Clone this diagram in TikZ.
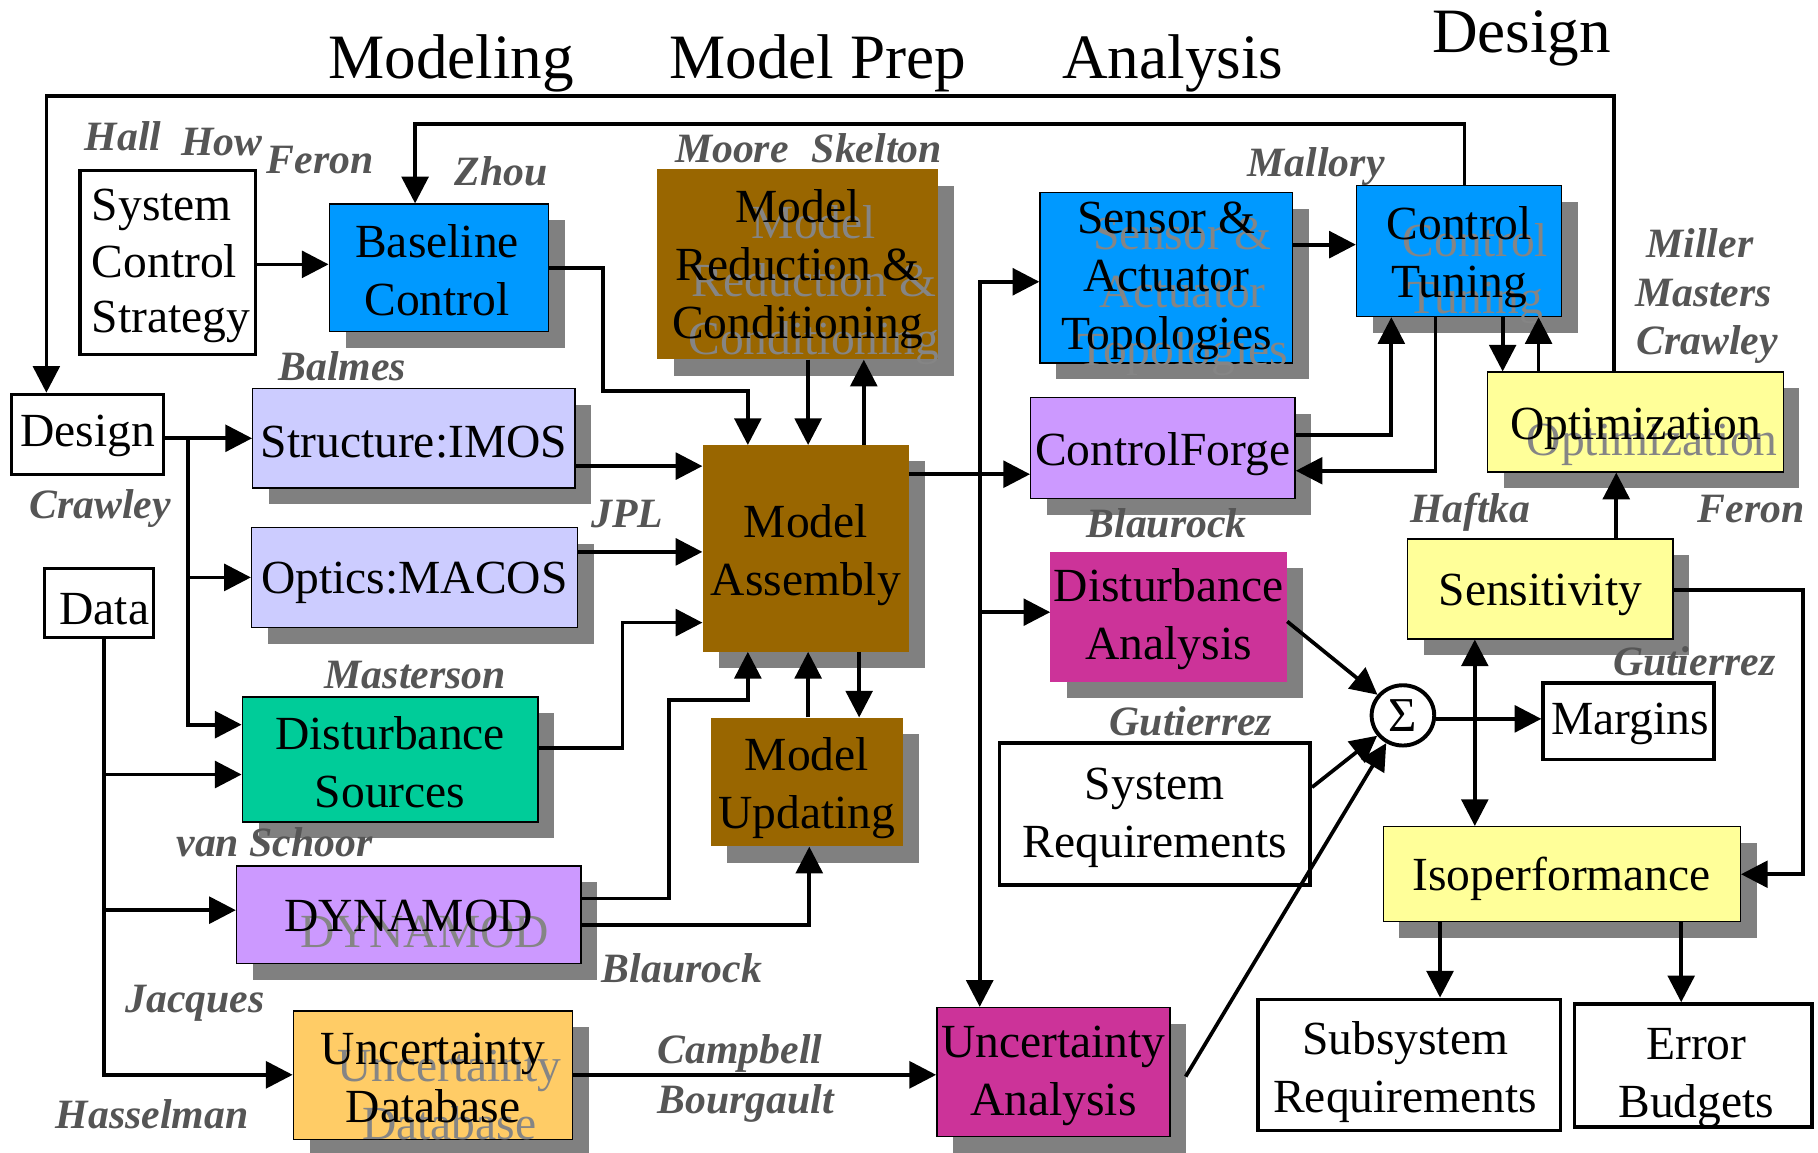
\documentclass[tikz,border=0pt]{standalone}
\usepackage{fontspec}
\setmainfont{Liberation Serif}
\usetikzlibrary{arrows.meta,shapes.geometric,shadows}
\definecolor{cblue}{HTML}{0099FF}
\definecolor{clav}{HTML}{CCCCFF}
\definecolor{cgreen}{HTML}{00CC99}
\definecolor{cpurp}{HTML}{CC99FF}
\definecolor{corange}{HTML}{FFCC66}
\definecolor{cbrown}{HTML}{996600}
\definecolor{cmag}{HTML}{CC3399}
\definecolor{cyel}{HTML}{FFFF99}
\definecolor{cshadow}{HTML}{808080}
\definecolor{cauth}{HTML}{555555}
\definecolor{cghost}{HTML}{858585}
\begin{document}
\begin{tikzpicture}[x=1pt,y=-1pt,
  boxshadow/.style={general shadow={fill=cshadow, shadow xshift=14pt, shadow yshift=-14pt}},
  cbox/.style={rectangle, draw=black, line width=1.2pt, inner sep=0pt, boxshadow},
  nbox/.style={rectangle, draw=none, inner sep=0pt, boxshadow},
  wbox/.style={rectangle, draw=black, fill=white, line width=2.6pt, inner sep=0pt},
  wboxt/.style={wbox, line width=3.2pt},
  btext/.style={font=\fontsize{41}{50}\selectfont, align=center, inner sep=0pt},
  gtext/.style={btext, text=cghost},
  auth/.style={font=\fontsize{36}{40}\selectfont\bfseries\itshape, text=cauth, anchor=base west, inner sep=0pt},
  ttl/.style={font=\fontsize{54.5}{60}\selectfont, anchor=base west, inner sep=0pt},
  conn/.style={line width=3.2pt},
  arr/.style={conn, -{Triangle[length=23pt,width=23pt]}},
]
\fill[white] (0,0) rectangle (1568,994);
\useasboundingbox (0,0) rectangle (1568,994);

% titles
\node[ttl] (tModel) at (283,68) {Modeling};
\node[ttl] (tPrep) at (577,68) {Model Prep};
\node[ttl] (tAna) at (916,68) {Analysis};
\node[ttl] (tDes) at (1235,45) {Design};

% white boxes
\node[wbox, minimum width=151pt, minimum height=159pt] (scs) at (144.5,226.5) {};
\node[btext, anchor=base west] (scs1) at (79,190) {System};
\node[btext, anchor=base west] (scs2) at (79,239) {Control};
\node[btext, anchor=base west] (scs3) at (79,287) {Strategy};
\node[wbox, minimum width=131pt, minimum height=69pt] (design) at (75.5,374.5) {};
\node[btext] (designT) at (75.5,376) {Design};
\node[wbox, minimum width=94pt, minimum height=60pt] (data) at (85,520) {};
\node[btext] (dataT) at (90,525) {Data};
\node[wboxt, minimum width=268pt, minimum height=122pt] (sr) at (996,702) {};
\node[btext] (srT) at (996,705) {System\\Requirements};
\node[wboxt, minimum width=147pt, minimum height=66pt] (marg) at (1404.5,622) {};
\node[btext] (margT) at (1406,624) {Margins};
\node[wboxt, minimum width=261pt, minimum height=113pt] (ssr) at (1215.5,918.5) {};
\node[btext] (ssrT) at (1212,925) {Subsystem\\Requirements};
\node[wboxt, minimum width=205pt, minimum height=106pt] (eb) at (1460.5,919) {};
\node[btext] (ebT) at (1463,930) {Error\\Budgets};

% coloured boxes
\node[cbox, fill=cblue, minimum width=189pt, minimum height=110pt] (bc) at (378.5,231) {};
\node[btext] (bcT) at (377,233) {Baseline\\Control};
\node[cbox, fill=clav, minimum width=278pt, minimum height=86pt] (imos) at (357,378) {};
\node[btext] (imosT) at (357,381) {Structure:IMOS};
\node[cbox, fill=clav, minimum width=281pt, minimum height=86pt] (macos) at (357.5,498) {};
\node[btext] (macosT) at (357.5,503) {Optics:MACOS};
\node[cbox, fill=cgreen, minimum width=255pt, minimum height=108pt] (ds) at (336.5,655) {};
\node[btext] (dsT) at (336.5,657) {Disturbance\\Sources};
\node[cbox, fill=cpurp, minimum width=297pt, minimum height=84pt] (dyn) at (352.5,789) {};
\node[gtext] (dynG) at (366.5,804) {DYNAMOD};
\node[btext] (dynT) at (352.5,790) {DYNAMOD};
\node[cbox, fill=corange, minimum width=241pt, minimum height=111pt] (udb) at (373.5,927.5) {};
\node[gtext] (udbG) at (387.5,944) {Uncertainty\\Database};
\node[btext] (udbT) at (373.5,930) {Uncertainty\\Database};

\node[nbox, fill=cbrown, minimum width=242pt, minimum height=164pt] (mrc) at (688,228) {};
\node[gtext] (mrcG) at (702,246) {Model\\Reduction \&\\Conditioning};
\node[btext] (mrcT) at (688,232) {Model\\Reduction \&\\Conditioning};
\node[nbox, fill=cbrown, minimum width=178pt, minimum height=178pt] (ma) at (695,473) {};
\node[btext] (maT) at (695,479) {Model\\Assembly};
\node[nbox, fill=cbrown, minimum width=166pt, minimum height=111pt] (mu) at (696,674.5) {};
\node[btext] (muT) at (696,680) {Model\\Updating};

\node[cbox, fill=cblue, minimum width=218pt, minimum height=147pt] (sat) at (1006,239.5) {};
\node[gtext] (satG) at (1020,256) {Sensor \&\\Actuator\\Topologies};
\node[btext] (satT) at (1006,242) {Sensor \&\\Actuator\\Topologies};
\node[cbox, fill=cblue, minimum width=177pt, minimum height=113pt] (ct) at (1258.5,216.5) {};
\node[gtext] (ctG) at (1272.5,236) {Control\\Tuning};
\node[btext] (ctT) at (1258.5,222) {Control\\Tuning};
\node[cbox, fill=cpurp, minimum width=228pt, minimum height=87pt] (cf) at (1003,386.5) {};
\node[btext] (cfT) at (1003,392) {ControlForge};
\node[nbox, fill=cmag, minimum width=204pt, minimum height=112pt] (da) at (1008,532) {};
\node[btext] (daT) at (1008,534) {Disturbance\\Analysis};
\node[cbox, fill=cmag, minimum width=201pt, minimum height=111pt] (ua) at (908.5,924.5) {};
\node[btext] (uaT) at (908.5,928) {Uncertainty\\Analysis};

\node[cbox, fill=cyel, minimum width=255pt, minimum height=86pt] (opt) at (1410.5,364) {};
\node[gtext] (optG) at (1425,384) {Optimization};
\node[btext] (optT) at (1411,370) {Optimization};
\node[cbox, fill=cyel, minimum width=229pt, minimum height=86pt] (sens) at (1328.5,508) {};
\node[btext] (sensT) at (1328.5,513) {Sensitivity};
\node[cbox, fill=cyel, minimum width=308pt, minimum height=82pt] (iso) at (1347,754) {};
\node[btext] (isoT) at (1347,758) {Isoperformance};

\node[ellipse, draw=black, fill=white, line width=3.4pt, minimum width=54pt, minimum height=52pt, inner sep=0pt] (sigma) at (1210,617) {};
\node[font=\fontsize{42}{46}\selectfont, inner sep=0pt] (sigmaT) at (1210,617) {Σ};

% authors
\node[auth] (aHall) at (73,130) {Hall};
\node[auth] (aHow) at (156,134) {How};
\node[auth] (aFeron1) at (230,150) {Feron};
\node[auth] (aZhou) at (392,160) {Zhou};
\node[auth] (aMoore) at (582,140) {Moore};
\node[auth] (aSkelton) at (700,140) {Skelton};
\node[auth] (aMallory) at (1076,152) {Mallory};
\node[auth] (aBalmes) at (240,328) {Balmes};
\node[auth] (aCrawley1) at (25,447) {Crawley};
\node[auth] (aJPL) at (510,455) {JPL};
\node[auth] (aMasterson) at (280,594) {Masterson};
\node[auth] (aVan) at (152,739) {van Schoor};
\node[auth] (aJacques) at (108,873) {Jacques};
\node[auth] (aHasselman) at (48,973) {Hasselman};
\node[auth] (aBlaurock1) at (519,847) {Blaurock};
\node[auth] (aCampbell) at (567,917) {Campbell};
\node[auth] (aBourgault) at (567,960) {Bourgault};
\node[auth] (aBlaurock2) at (937,464) {Blaurock};
\node[auth] (aGut1) at (957,634) {Gutierrez};
\node[auth] (aMiller) at (1420,222) {Miller};
\node[auth] (aMasters) at (1410,264) {Masters};
\node[auth] (aCrawley2) at (1411,306) {Crawley};
\node[auth] (aHaftka) at (1216,451) {Haftka};
\node[auth] (aFeron2) at (1464,451) {Feron};
\node[auth] (aGut2) at (1391,583) {Gutierrez};

% junction coordinates
\coordinate (j1) at (162,378);
\coordinate (j2) at (90,668);
\coordinate (j3) at (90,785);
\coordinate (j4) at (845,409);
\coordinate (j5) at (845,528);
\coordinate (j6) at (1272,620);

% connectors
\draw[arr] (opt.north -| 1392,0) -- (1392,83) -- (40,83) -- (design.north -| 40,0);
\draw[arr] (ct.north -| 1263,0) -- (1263,107) -- (358,107) -- (bc.north -| 358,0);
\draw[arr] (scs.east |- 0,228) -- (bc.west |- 0,228);
\draw[arr] (bc.east |- 0,231) -- (520,231) -- (520,337) -- (645,337) -- (ma.north -| 645,0);
\draw[arr] (mrc.south -| 697,0) -- (ma.north -| 697,0);
\draw[arr] (ma.north -| 745,0) -- (mrc.south -| 745,0);

\draw[arr] (design.east |- 0,378) -- (imos.west |- 0,378);
\draw[arr] (j1) |- (macos.west |- 0,498);
\draw[arr] (j1) |- (ds.west |- 0,625);

\draw[arr] (data.south -| 90,0) |- (udb.west |- 0,927);
\draw[arr] (j2) -- (ds.west |- 0,668);
\draw[arr] (j3) -- (dyn.west |- 0,785);

\draw[arr] (imos.east |- 0,402) -- (ma.west |- 0,402);
\draw[arr] (macos.east |- 0,476) -- (ma.west |- 0,476);
\draw[arr] (ds.east |- 0,645) -- (537,645) -- (537,537) -- (ma.west |- 0,537);
\draw[arr] (dyn.east |- 0,775) -- (577,775) -- (577,604) -- (645,604) -- (ma.south -| 645,0);
\draw[arr] (dyn.east |- 0,798) -- (698,798) -- (mu.south -| 698,0);
\draw[arr] (mu.north -| 697,0) -- (ma.south -| 697,0);
\draw[arr] (ma.south -| 741,0) -- (mu.north -| 741,0);

\draw[arr] (ma.east |- 0,409) -- (cf.west |- 0,409);
\draw[arr] (j4) |- (sat.west |- 0,243);
\draw[arr] (j4) -- (ua.north -| 845,0);
\draw[arr] (j5) -- (da.west |- 0,528);
\draw[arr] (udb.east |- 0,927) -- (ua.west |- 0,927);

\draw[arr] (sat.east |- 0,211) -- (ct.west |- 0,211);
\draw[arr] (cf.east |- 0,375) -- (1200,375) -- (ct.south -| 1200,0);
\draw[arr] (ct.south -| 1238,0) -- (1238,406) -- (cf.east |- 0,406);
\draw[arr] (ct.south -| 1296,0) -- (opt.north -| 1296,0);
\draw[arr] (opt.north -| 1327,0) -- (ct.south -| 1327,0);
\draw[arr] (sens.north -| 1394,0) -- (opt.south -| 1394,0);
\draw[arr] (sens.east |- 0,509) -- (1555,509) -- (1555,754) -- (iso.east |- 0,754);

\draw[arr] (da.east |- 0,536) -- (sigma);
\draw[arr] (sr.east |- 0,679) -- (sigma);
\draw[arr] ([xshift=13pt,yshift=-4pt]ua.east) -- (sigma);
\draw[arr] (sigma.east |- 0,620) -- (marg.west |- 0,620);
\draw[arr] (j6) -- (sens.south -| 1272,0);
\draw[arr] (j6) -- (iso.north -| 1272,0);
\draw[arr] (iso.south -| 1242,0) -- (ssr.north -| 1242,0);
\draw[arr] (iso.south -| 1450,0) -- (eb.north -| 1450,0);
\end{tikzpicture}
\end{document}
